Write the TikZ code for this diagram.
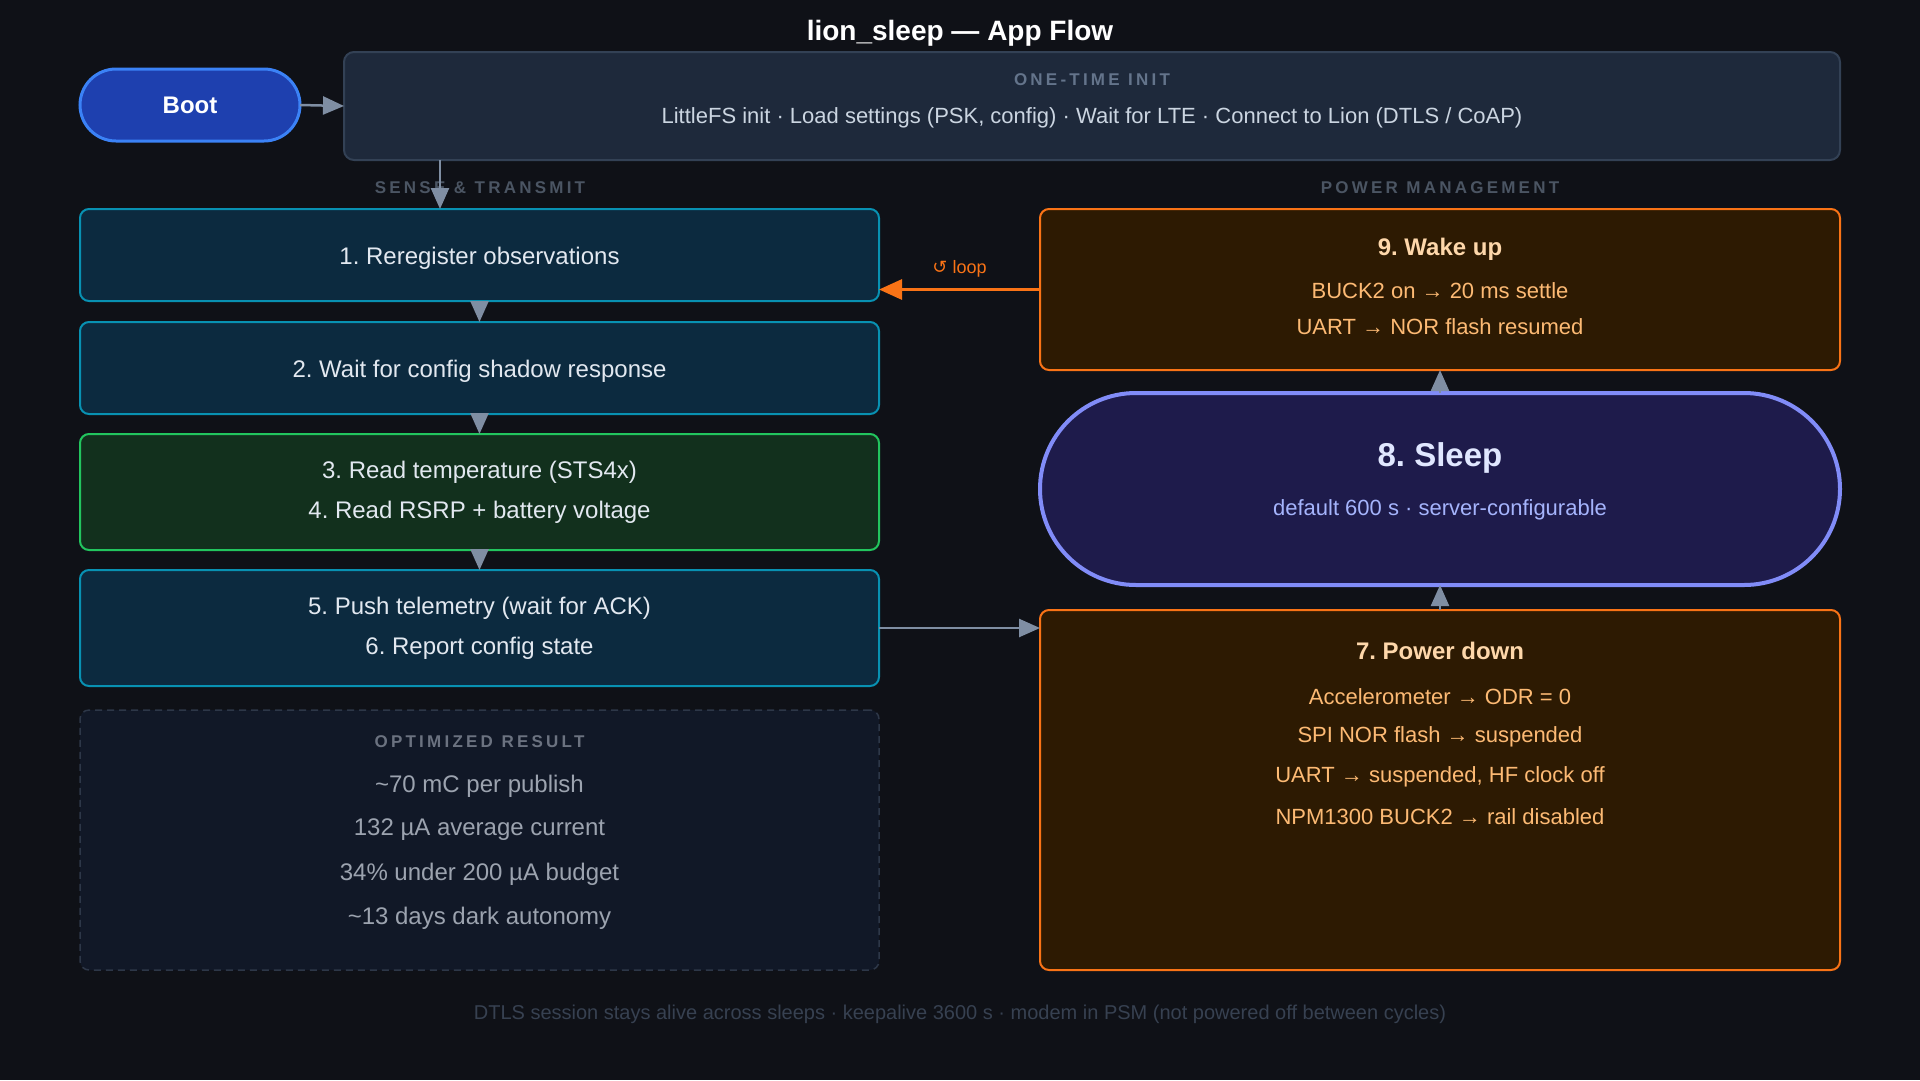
\documentclass[tikz,border=0pt]{standalone}
\usepackage{fontspec}
\setmainfont{Liberation Sans}
\newfontfamily\symfont{DejaVu Sans}
\usetikzlibrary{arrows.meta,calc}
\definecolor{bg}{HTML}{0F1117}
\definecolor{bootfill}{HTML}{1E40AF}
\definecolor{bootline}{HTML}{3B82F6}
\definecolor{initfill}{HTML}{1E293B}
\definecolor{initline}{HTML}{334155}
\definecolor{capgray}{HTML}{64748B}
\definecolor{secgray}{HTML}{4B5563}
\definecolor{tealfill}{HTML}{0C2A3F}
\definecolor{tealline}{HTML}{0891B2}
\definecolor{greenfill}{HTML}{12301D}
\definecolor{greenline}{HTML}{22C55E}
\definecolor{lighttext}{HTML}{E2E8F0}
\definecolor{inittext}{HTML}{CBD5E1}
\definecolor{resfill}{HTML}{111827}
\definecolor{resline}{HTML}{2D3748}
\definecolor{restitle}{HTML}{6B7280}
\definecolor{restext}{HTML}{9CA3AF}
\definecolor{orfill}{HTML}{2D1A02}
\definecolor{orline}{HTML}{F97316}
\definecolor{ortitle}{HTML}{FED7AA}
\definecolor{ortext}{HTML}{FDBA74}
\definecolor{slfill}{HTML}{1E1B4B}
\definecolor{slline}{HTML}{818CF8}
\definecolor{sltitle}{HTML}{E0E7FF}
\definecolor{sltext}{HTML}{A5B4FC}
\definecolor{arrgray}{HTML}{7F8EA3}
\definecolor{foot}{HTML}{374151}
\newcommand\fsz[1]{\fontsize{#1}{#1}\selectfont}
\newcommand\wsp{\hspace{0.5em}}
\frenchspacing
\begin{document}
\frenchspacing
\begin{tikzpicture}[x=1pt,y=-1pt,
  every node/.style={inner sep=0pt, outer sep=0pt},
  card/.style={draw, rounded corners=9pt, line width=2pt},
  txt/.style={text=lighttext, font=\fsz{24}},
  capstyle/.style={font=\fsz{17}\bfseries\addfontfeature{LetterSpace=19}},
  arr/.style={draw=arrgray, line width=2.5pt, -{Triangle[length=21pt,width=18pt]}},
]
\fill[bg] (0,0) rectangle (1920,1080);
\useasboundingbox (0,0) rectangle (1920,1080);

% title
\node[text=white, font=\fsz{28}\bfseries] (title) at (960,33) {lion\_sleep — App Flow};

% boot
\node[draw=bootline, fill=bootfill, line width=3pt, rounded corners=36pt,
      minimum width=220pt, minimum height=72pt, text=white, font=\fsz{24}\bfseries] (boot) at (190,105) {Boot};

% init
\node[card, draw=initline, fill=initfill, minimum width=1496pt, minimum height=108pt, rounded corners=10pt] (init) at (1092,106) {};
\node[capstyle, text=capgray] (initcap) at (1092,80) {ONE-TIME\wsp INIT};
\node[text=inittext, font=\fsz{22}] (inittxt) at (1092,118) {LittleFS init · Load settings (PSK, config) · Wait for LTE · Connect to Lion (DTLS / CoAP)};

% section labels
\node[capstyle, text=secgray] (sec1) at (480,188) {SENSE\wsp \&\wsp TRANSMIT};
\node[capstyle, text=secgray] (sec2) at (1440,188) {POWER\wsp MANAGEMENT};

% left column
\node[card, draw=tealline, fill=tealfill, minimum width=799pt, minimum height=92pt] (b1) at (479.5,255) {};
\node[txt] (t1) at (479.5,258) {1. Reregister observations};
\node[card, draw=tealline, fill=tealfill, minimum width=799pt, minimum height=92pt] (b2) at (479.5,368) {};
\node[txt] (t2) at (479.5,371) {2. Wait for config shadow response};
\node[card, draw=greenline, fill=greenfill, minimum width=799pt, minimum height=116pt] (b3) at (479.5,492) {};
\node[txt] (t3a) at (479.5,472) {3. Read temperature (STS4x)};
\node[txt] (t3b) at (479.5,512) {4. Read RSRP + battery voltage};
\node[card, draw=tealline, fill=tealfill, minimum width=799pt, minimum height=116pt] (b4) at (479.5,628) {};
\node[txt] (t4a) at (479.5,608) {5. Push telemetry (wait for ACK)};
\node[txt] (t4b) at (479.5,648) {6. Report config state};

% result
\node[card, draw=resline, fill=resfill, dashed, dash pattern=on 7pt off 5pt, line width=1.5pt,
      minimum width=799pt, minimum height=260pt] (res) at (479.5,840) {};
\node[capstyle, text=restitle] (rcap) at (479.5,742) {OPTIMIZED\wsp RESULT};
\node[text=restext, font=\fsz{24}] (r1) at (479.5,786) {\textasciitilde 70 mC per publish};
\node[text=restext, font=\fsz{24}] (r2) at (479.5,830) {132 µA average current};
\node[text=restext, font=\fsz{24}] (r3) at (479.5,874) {34\% under 200 µA budget};
\node[text=restext, font=\fsz{24}] (r4) at (479.5,918) {\textasciitilde 13 days dark autonomy};

% right column
\node[card, draw=orline, fill=orfill, minimum width=800pt, minimum height=161pt] (b9) at (1440,289.5) {};
\node[text=ortitle, font=\fsz{24}\bfseries] (t9) at (1440,249) {9. Wake up};
\node[text=ortext, font=\fsz{22}] (t9a) at (1440,291) {BUCK2 on → 20 ms settle};
\node[text=ortext, font=\fsz{22}] (t9b) at (1440,327) {UART → NOR flash resumed};

\node[draw=slline, fill=slfill, line width=4pt, rounded corners=96pt,
      minimum width=800pt, minimum height=192pt] (sleep) at (1440,489) {};
\node[text=sltitle, font=\fsz{33}\bfseries] (tsl) at (1440,458) {8. Sleep};
\node[text=sltext, font=\fsz{22}] (tsl2) at (1440,510) {default 600 s · server-configurable};

\node[card, draw=orline, fill=orfill, minimum width=800pt, minimum height=360pt] (b7) at (1440,790) {};
\node[text=ortitle, font=\fsz{24}\bfseries] (t7) at (1440,651) {7. Power down};
\node[text=ortext, font=\fsz{22}] (t7a) at (1440,697) {Accelerometer → ODR = 0};
\node[text=ortext, font=\fsz{22}] (t7b) at (1440,737) {SPI NOR flash → suspended};
\node[text=ortext, font=\fsz{22}] (t7c) at (1440,777) {UART → suspended, HF clock off};
\node[text=ortext, font=\fsz{22}] (t7d) at (1440,817) {NPM1300 BUCK2 → rail disabled};

% footer
\node[text=foot, font=\fsz{20}] (footer) at (960,1014) {DTLS session stays alive across sleeps · keepalive 3600 s · modem in PSM (not powered off between cycles)};

% connectors
\coordinate (cx) at (440,0);
\draw[arr] (boot.east) -- (init.west);
\draw[arr] (init.south -| cx) -- (b1.north -| cx);
\draw[arr] (b1.south) -- (b2.north);
\draw[arr] (b2.south) -- (b3.north);
\draw[arr] (b3.south) -- (b4.north);
\draw[arr] (b4.east) -- (b4.east -| b7.west);
\draw[arr] (b7.north) -- (sleep.south);
\draw[arr] (sleep.north) -- (b9.south);
\draw[draw=orline, line width=3pt, -{Triangle[length=23pt,width=20pt]}] (b9.west) -- (b9.west -| b1.east)
  node[midway, above=12pt, text=orline, font=\fsz{18}] (looplbl) {{\symfont ↺} loop};
\end{tikzpicture}
\end{document}
